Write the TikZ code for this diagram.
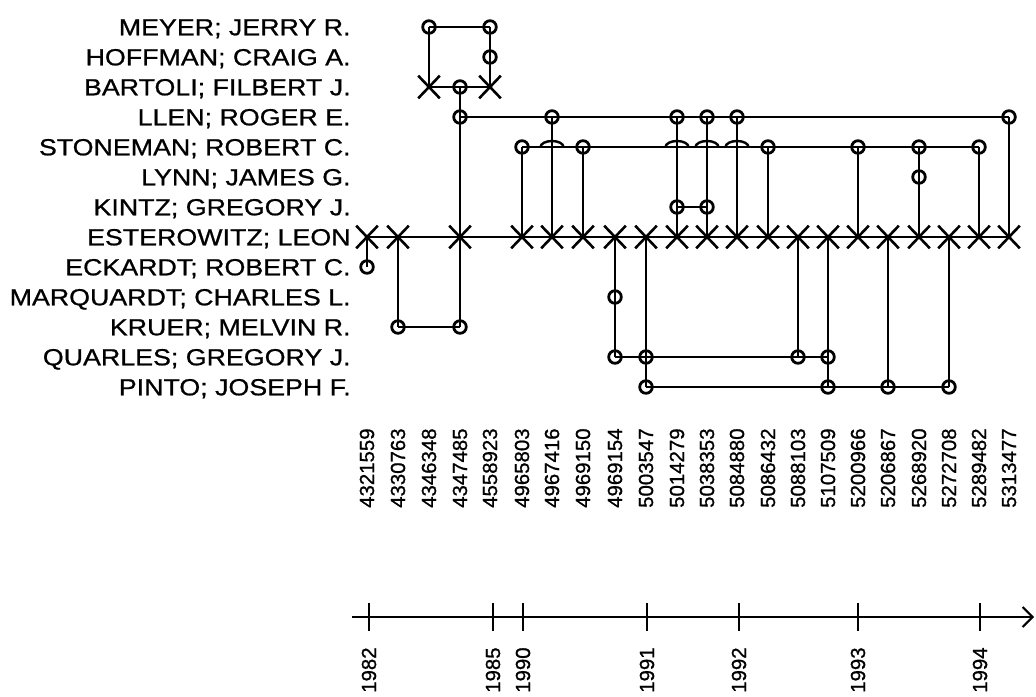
\documentclass[tikz,border=0pt]{standalone}
\usepackage{fontspec}
\newfontfamily\namefont[FakeStretch=1.15,FakeBold=0.8]{Liberation Sans}
\newfontfamily\numfont[FakeBold=0.9]{Liberation Sans}
\usetikzlibrary{arrows.meta,shapes.misc}

\begin{document}
\begin{tikzpicture}[x=0.5pt,y=-0.5pt,
inv/.style={circle,draw,line width=1.4pt,minimum size=6.3pt,inner sep=0pt},
lead/.style={cross out,draw,line width=1.3pt,minimum width=9.5pt,minimum height=10pt,inner sep=0pt},
link/.style={line width=1pt},
hop/.style={line width=1.2pt},
inventor/.style={font=\namefont\fontsize{11.65}{12}\selectfont,anchor=base east,inner sep=0pt},
patno/.style={font=\numfont\fontsize{10.2}{11}\selectfont,rotate=90,anchor=east,inner sep=0pt},
yeartick/.style={line width=1pt}
]
\useasboundingbox (0,0) rectangle (1036,696);

% inventors, one row each
\foreach \r/\y/\who in {meyer/27/{MEYER; JERRY R.},hoffman/57/{HOFFMAN; CRAIG A.},
  bartoli/87/{BARTOLI; FILBERT J.},llen/117/{LLEN; ROGER E.},stoneman/147/{STONEMAN; ROBERT C.},
  lynn/177/{LYNN; JAMES G.},kintz/207/{KINTZ; GREGORY J.},esterowitz/237/{ESTEROWITZ; LEON},
  eckardt/267/{ECKARDT; ROBERT C.},marquardt/297/{MARQUARDT; CHARLES L.},kruer/327/{KRUER; MELVIN R.},
  quarles/357/{QUARLES; GREGORY J.},pinto/387/{PINTO; JOSEPH F.}}{
  \coordinate (row-\r) at (0,\y);
  \node[inventor] (lbl-\r) at (351,\y+8.3) {\who};
}

% patents, one column each
\foreach \i/\x/\num in {0/367/4321559,1/398/4330763,2/429/4346348,3/460/4347485,4/490/4558923,
  5/522/4965803,6/552/4967416,7/583/4969150,8/615/4969154,9/646/5003547,10/677/5014279,
  11/707/5038353,12/737/5084880,13/768/5086432,14/798/5088103,15/828/5107509,16/858/5200966,
  17/888/5206867,18/919/5268920,19/949/5272708,20/979/5289482,21/1009/5313477}{
  \coordinate (c\i) at (\x,0);
  \node[patno] (pat\i) at (\x,428) {\num};
}

% markers
\foreach \r/\i in {meyer/2,meyer/4,hoffman/4,bartoli/3,llen/3,kruer/1,kruer/3,eckardt/0,
  stoneman/5,llen/6,stoneman/7,marquardt/8,quarles/8,quarles/9,pinto/9,llen/10,kintz/10,
  llen/11,kintz/11,llen/12,stoneman/13,quarles/14,quarles/15,pinto/15,stoneman/16,pinto/17,
  stoneman/18,lynn/18,pinto/19,stoneman/20,llen/21}
  \node[inv] (\r-\i) at (c\i |- row-\r) {};
\foreach \r/\i in {bartoli/2,bartoli/4}
  \node[lead] (\r-\i) at (c\i |- row-\r) {};
\foreach \i in {0,1,3,5,6,...,21}
  \node[lead] (esterowitz-\i) at (c\i |- row-esterowitz) {};

% links within a patent
\foreach \i/\a/\b in {0/esterowitz/eckardt,1/esterowitz/kruer,2/meyer/bartoli,3/bartoli/kruer,
  4/meyer/bartoli,5/stoneman/esterowitz,6/llen/esterowitz,7/stoneman/esterowitz,
  8/esterowitz/quarles,9/esterowitz/pinto,10/llen/esterowitz,11/llen/esterowitz,
  12/llen/esterowitz,13/stoneman/esterowitz,14/esterowitz/quarles,15/esterowitz/pinto,
  16/stoneman/esterowitz,17/esterowitz/pinto,18/stoneman/esterowitz,19/esterowitz/pinto,
  20/stoneman/esterowitz,21/llen/esterowitz}
  \draw[link] (\a-\i.center) -- (\b-\i.center);

% links within an inventor
\foreach \r/\a/\b in {meyer/2/4,bartoli/2/4,llen/3/21,stoneman/5/20,kintz/10/11,
  esterowitz/0/21,kruer/1/3,quarles/8/15,pinto/9/19}
  \draw[link] (\r-\a.center) -- (\r-\b.center);

% hops where a link crosses STONEMAN
\foreach \i in {6,10,11,12}{
  \coordinate (hop\i) at (c\i |- row-stoneman);
  \draw[hop] ([xshift=-5.75pt]hop\i) arc[start angle=180,end angle=0,x radius=5.75pt,y radius=3pt];
}

% time axis
\coordinate (ax0) at (352,617);
\coordinate (ax1) at (1034,617);
\draw[link,-{Straight Barb[length=5pt,width=10pt]}] (ax0) -- (ax1);
\foreach \x/\yr in {369/1982,493/1985,523/1990,647/1991,739/1992,858/1993,980/1994}{
  \draw[yeartick] (\x,603) -- (\x,631);
  \node[patno] (yr\yr) at (\x,647) {\yr};
}
\end{tikzpicture}
\end{document}
